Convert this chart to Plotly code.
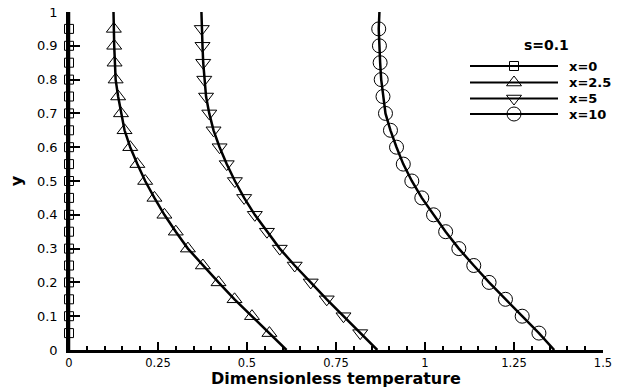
import plotly.graph_objects as go

# ---- data ----
y_vals = [0.0, 0.05, 0.1, 0.15, 0.2, 0.25, 0.3, 0.35, 0.4, 0.45, 0.5,
          0.55, 0.6, 0.65, 0.7, 0.75, 0.8, 0.85, 0.9, 0.95, 1.0]
t_x0 = [0.0] * 21
t_x25 = [0.611, 0.563, 0.514, 0.465, 0.420, 0.376, 0.334, 0.300, 0.268, 0.240, 0.214,
         0.192, 0.172, 0.156, 0.146, 0.138, 0.131, 0.128, 0.127, 0.126, 0.125]
t_x5 = [0.866, 0.818, 0.771, 0.724, 0.679, 0.634, 0.592, 0.556, 0.522, 0.492, 0.466,
        0.443, 0.423, 0.406, 0.394, 0.385, 0.380, 0.377, 0.375, 0.373, 0.372]
t_x10 = [1.363, 1.320, 1.273, 1.226, 1.180, 1.137, 1.095, 1.058, 1.024, 0.991, 0.963,
         0.939, 0.920, 0.903, 0.889, 0.882, 0.877, 0.874, 0.872, 0.870, 0.872]

series_names = ["x=0", "x=2.5", "x=5", "x=10"]
series_vals = [t_x0, t_x25, t_x5, t_x10]
series_symbols = ["square-open", "triangle-up-open", "triangle-down-open", "circle-open"]
series_sizes = [9, 13, 13, 14]
legend_title = "s=0.1"
x_title = "Dimensionless temperature"
y_title = "y"

x_ticks = [0, 0.25, 0.5, 0.75, 1, 1.25, 1.5]

fig = go.Figure()

for name, vals, sym, sz in zip(series_names, series_vals, series_symbols, series_sizes):
    fig.add_trace(go.Scatter(x=vals, y=y_vals, mode="lines",
                             line=dict(color="black", width=2.5),
                             showlegend=False, cliponaxis=False, hoverinfo="skip"))
    fig.add_trace(go.Scatter(x=vals[1:-1], y=y_vals[1:-1], mode="markers",
                             marker=dict(symbol=sym, size=sz, color="black",
                                         line=dict(color="black", width=1)),
                             showlegend=False, cliponaxis=False, hoverinfo="skip"))

W, H = 620, 387
# plot area in page pixels
L, R, T, B = 69, 603, 12, 350

# ---- custom legend on a page-pixel-mapped overlay axis ----
rows = [66, 82.5, 98.5, 114]
for name, sym, sz, ry in zip(series_names, series_symbols, series_sizes, rows):
    fig.add_trace(go.Scatter(x=[470, 558], y=[ry, ry], mode="lines",
                             line=dict(color="black", width=2),
                             xaxis="x2", yaxis="y2", showlegend=False, cliponaxis=False,
                             hoverinfo="skip"))
    fig.add_trace(go.Scatter(x=[514], y=[ry], mode="markers",
                             marker=dict(symbol=sym, size=sz, color="black",
                                         line=dict(color="black", width=1)),
                             xaxis="x2", yaxis="y2", showlegend=False, cliponaxis=False,
                             hoverinfo="skip"))
    fig.add_annotation(x=567, y=ry, xref="x2", yref="y2", text=name, showarrow=False,
                       xanchor="left", yanchor="middle",
                       font=dict(family="DejaVu Sans", size=13, color="black", weight="bold"))
fig.add_annotation(x=546, y=45, xref="x2", yref="y2", text=legend_title, showarrow=False,
                   xanchor="center", yanchor="middle",
                   font=dict(family="DejaVu Sans", size=14, color="black", weight="bold"))

# x-axis title as an annotation just below the tick labels
fig.add_annotation(x=0.5, y=0, xref="paper", yref="paper", yshift=-18,
                   text=x_title, showarrow=False, xanchor="center", yanchor="top",
                   borderpad=0,
                   font=dict(family="DejaVu Sans", size=16, color="black", weight="bold"))

fig.update_layout(
    width=W, height=H,
    margin=dict(l=L, r=W - R, t=T, b=H - B, autoexpand=False),
    paper_bgcolor="white", plot_bgcolor="white",
    showlegend=False,
    font=dict(family="DejaVu Sans", color="black"),
    xaxis=dict(range=[0, 1.5], tickvals=x_ticks, ticks="inside", ticklen=8, tickwidth=2,
               tickcolor="black", showline=True, linewidth=2.5, linecolor="black",
               showgrid=False, zeroline=False, automargin=False, ticklabeloverflow="allow",
               tickfont=dict(family="DejaVu Sans", size=11.5, color="black"),
               minor=dict(dtick=0.05, ticks="inside", ticklen=4, tickwidth=1.5, tickcolor="black",
                          showgrid=False)),
    yaxis=dict(range=[0, 1], dtick=0.1, ticks="inside", ticklen=11, tickwidth=2,
               tickcolor="black", showline=True, linewidth=2.5, linecolor="black",
               showgrid=False, zeroline=False, ticklabelstandoff=6, automargin=False,
               ticklabeloverflow="allow",
               tickfont=dict(family="DejaVu Sans", size=13, color="black"),
               title=dict(text=y_title, standoff=11,
                          font=dict(family="DejaVu Sans", size=16, color="black", weight="bold"))),
    xaxis2=dict(range=[L, R], overlaying="x", visible=False, fixedrange=True),
    yaxis2=dict(range=[B, T], overlaying="y", visible=False, fixedrange=True),
)

fig.write_html("out.html", config={"displayModeBar": False},
               post_script="document.body.style.margin='0';")
